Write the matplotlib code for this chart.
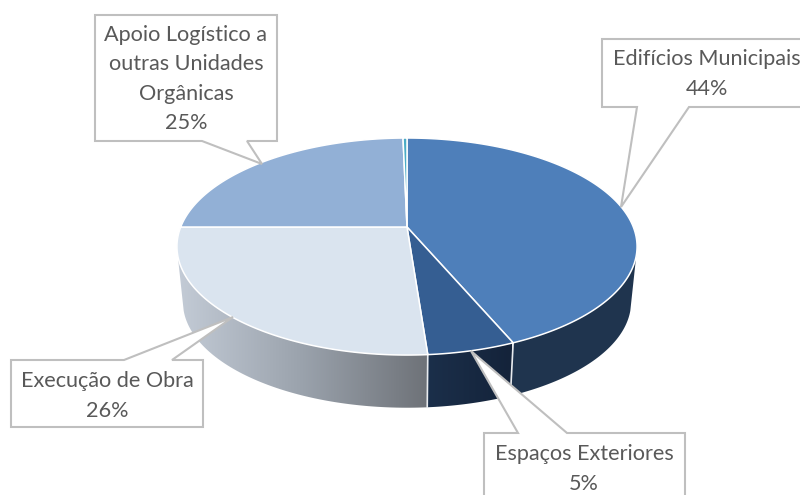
import numpy as np
import matplotlib
matplotlib.use("Agg")
import matplotlib.pyplot as plt
from matplotlib.colors import LinearSegmentedColormap
from matplotlib.patches import Polygon

labels = ["Edifícios Municipais", "Espaços Exteriores", "Execução de Obra",
          "Apoio Logístico a\noutras Unidades\nOrgânicas", ""]
values = [43.6, 5.2, 26.2, 24.67, 0.33]

top_colors = ["#4e7fba", "#355e92", "#dae4ef", "#92b0d6", "#4bacc6"]
wall_colors = ["#1f344e", "#17283f", "#6f7379", "#5a7290", "#2d6b7c"]

# pie layout, in pixels of the 800x495 picture
hub_x, hub_y = 407, 227
radius_x, radius_y = 226.3, 105
persp = 0.18
depth = 56
shrink = 0.974
wall_from, wall_to = np.radians(105), np.radians(255)

# callouts: box (left, top, right, bottom), pointer base x pair, side of the box, tip, text centre
callouts = [
    ((602, 39, 830, 107), (637, 689), "bottom", (621, 207), (707, 74)),
    ((484, 433, 685, 520), (518, 567), "top", (471, 351), (584, 469)),
    ((11, 360, 203, 427), (124, 172), "top", (233, 317), (107, 396)),
    ((95, 15, 277, 141), (202, 247), "bottom", (262, 164), (186, 79)),
]


def rim(theta, drop=0.0, scale=1.0):
    # theta clockwise from the back of the pie, perspective squeezes the back
    u, v = np.sin(theta), np.cos(theta)
    den = 1 + persp * v
    return hub_x + scale * radius_x * u / den, hub_y + drop - scale * radius_y * v / den


fig = plt.figure(figsize=(8, 4.95), dpi=100)
ax = fig.add_axes([0, 0, 1, 1])

edges = np.radians(np.concatenate([[0], np.cumsum(values)]) * 3.6)

# walls first, only the part of each slice that faces the viewer
for i in range(len(values)):
    start, stop = max(edges[i], wall_from), min(edges[i + 1], wall_to)
    if start >= stop:
        continue
    th = np.linspace(start, stop, 120)
    xt, yt = rim(th)
    xb, yb = rim(th[::-1], depth, shrink)
    pts = np.column_stack([np.r_[xt, xb], np.r_[yt, yb]])
    if i == 2:
        patch = Polygon(pts, closed=True, fc="none", ec="none")
        ax.add_patch(patch)
        cmap = LinearSegmentedColormap.from_list("wall", ["#c3cbd6", "#9aa2ac", "#6e7278"])
        img = ax.imshow(np.linspace(0, 1, 256)[None, :], cmap=cmap, aspect="auto",
                        extent=(178, 428, 420, 220), zorder=1)
        img.set_clip_path(patch)
    elif i == 1:
        patch = Polygon(pts, closed=True, fc="none", ec="none")
        ax.add_patch(patch)
        cmap = LinearSegmentedColormap.from_list("wall2", ["#1b2f4a", "#14233a"])
        img = ax.imshow(np.linspace(0, 1, 64)[None, :], cmap=cmap, aspect="auto",
                        extent=(427, 512, 420, 340), zorder=1)
        img.set_clip_path(patch)
    else:
        ax.fill(pts[:, 0], pts[:, 1], color=wall_colors[i], lw=0, zorder=1)

# white seams between the visible walls
for i in [1, 2]:
    th = edges[i]
    x0, y0 = rim(th)
    x1, y1 = rim(th, depth, shrink)
    ax.plot([x0, x1], [y0, y1], color="#e8ebef", lw=1.2, zorder=2)

# top face
for i in range(len(values)):
    th = np.linspace(edges[i], edges[i + 1], 200)
    xt, yt = rim(th)
    ax.fill(np.r_[hub_x, xt], np.r_[hub_y, yt], fc=top_colors[i], ec="white", lw=1.1,
            joinstyle="round", zorder=3)

# callouts with leader pointers
for (l, t, r, b), (p0, p1), side, tip, txt in callouts:
    if side == "bottom":
        shape = [(l, t), (r, t), (r, b), (p1, b), tip, (p0, b), (l, b)]
    else:
        shape = [(l, t), (p0, t), tip, (p1, t), (r, t), (r, b), (l, b)]
    ax.add_patch(Polygon(shape, closed=True, fc="white", ec="#bfbfbf", lw=1.5,
                         joinstyle="miter", zorder=4))

for i, c in enumerate(callouts):
    tx, ty = c[4]
    ax.text(tx, ty, f"{labels[i]}\n{round(values[i])}%", ha="center", va="center",
            fontsize=15.6, family="Lato", color="#595959", linespacing=1.58, zorder=5)

ax.set_xlim(0, 800)
ax.set_ylim(495, 0)
ax.axis("off")
fig.savefig("out.png", dpi=100)
